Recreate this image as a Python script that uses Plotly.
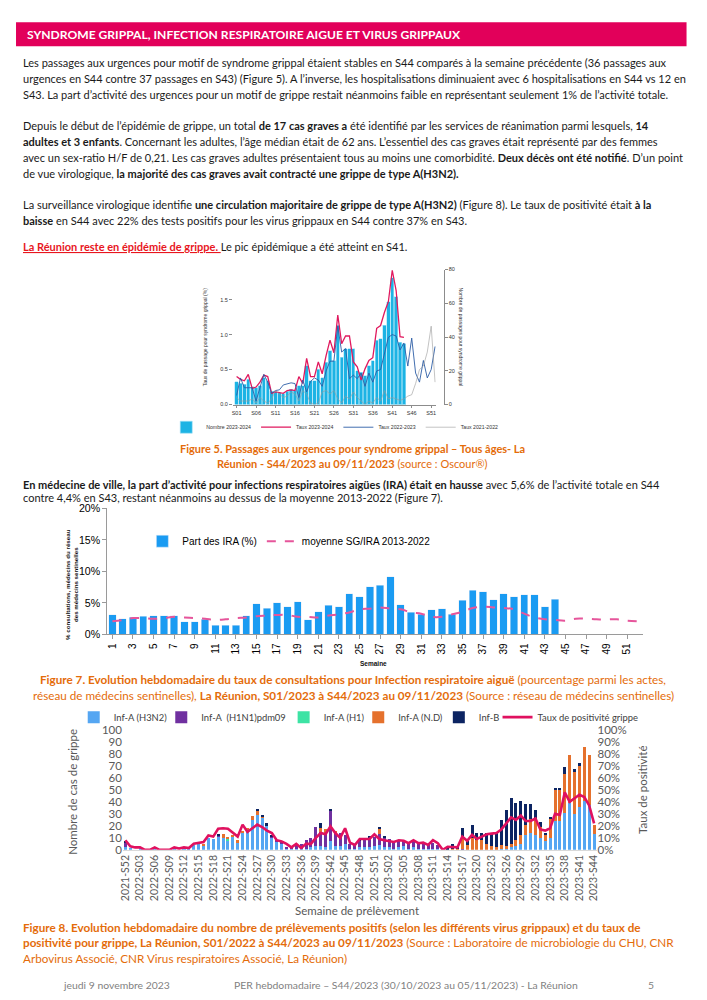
import plotly.graph_objects as go

# Figure is 691x984 inside the page's 8px body margin; a small measured
# correction maps reference-page pixels to the figure's paper coordinates.
PAGE_W, PAGE_H, OFF = 707, 1000, 8
W, H = PAGE_W - 2 * OFF, PAGE_H - 2 * OFF
OX, SX = 3.0, 0.995
OY, SY = 6.8, 0.987


def fx(x):
    return ((x - OX) / SX - OFF) / W


def fy(y):
    return 1 - ((y - OY) / SY - OFF) / H


# ---------------- Figure 5 : passages aux urgences ----------------
fig5_weeks = list(range(1, 53))
fig5_week_labels = [f"S{w:02d}" for w in fig5_weeks]
fig5_nombre_2023_2024 = [13.5, 12.5, 12, 15, 10.5, 10, 11, 16, 14, 8,
                         7.5, 7, 6.5, 8, 9, 8.5, 11, 11, 23, 14,
                         14, 21, 16, 25, 32, 26, 47, 28, 33, 33,
                         33, 20, 19, 17, 23, 26, 38, 39, 47, 61,
                         75, 64, 37, 36]
fig5_taux_2023_2024 = [0.40, 0.36, 0.34, 0.43, 0.23, 0.25, 0.32, 0.42, 0.40, 0.16,
                       0.18, 0.17, 0.16, 0.20, 0.21, 0.20, 0.40, 0.30, 0.66, 0.40,
                       0.40, 0.61, 0.44, 0.70, 0.92, 0.74, 1.28, 0.87, 0.98, 0.98,
                       0.61, 0.54, 0.35, 0.51, 0.63, 0.67, 1.09, 1.13, 1.32, 1.47,
                       1.92, 1.63, 0.97, 0.96]
fig5_taux_2022_2023 = [0.13, 0.38, 0.24, 0.24, 0.24, 0.05, 0.24, 0.43, 0.32, 0.16,
                       0.20, 0.21, 0.28, 0.30, 0.31, 0.30, 0.10, 0.35, 0.18, 0.33,
                       0.38, 0.35, 0.26, 0.48, 0.62, 0.62, 1.12, 0.75, 0.80, 0.37,
                       0.42, 0.37, 0.45, 0.26, 0.45, 0.32, 0.48, 0.50, 0.72, 0.96,
                       1.00, 0.98, 0.78, 0.88, 0.55, 0.95, 0.45, 0.32, 0.63, 0.38,
                       0.50, 0.83]
fig5_taux_2021_2022 = [0.10, 0.05, 0.05, 0.05, 0.08, 0.02, 0.10, 0.05, 0.02, 0.08,
                       0.20, 0.15, 0.10, 0.12, 0.18, 0.15, 0.05, 0.20, 0.15, 0.02,
                       0.00, 0.02, 0.18, 0.20, 0.15, 0.20, 0.08, 0.02, 0.12, 0.08,
                       0.18, 0.10, 0.05, 0.00, 0.05, 0.02, 0.10, 0.05, 0.20, 0.08,
                       0.10, 0.08, 0.06, 0.08, 0.12, 0.14, 0.30, 0.50, 0.55, 0.75,
                       1.12, 0.32]

# ---------------- Figure 7 : IRA médecins sentinelles ----------------
fig7_weeks = list(range(1, 53))
fig7_part_ira = [3.1, 2.5, 2.7, 2.9, 3.0, 3.0, 3.0, 2.0, 2.0, 2.4,
                 1.5, 1.5, 1.5, 3.0, 4.9, 4.2, 5.0, 4.4, 5.2, 2.3,
                 3.6, 4.6, 4.4, 6.5, 6.0, 7.6, 7.8, 9.2, 4.7, 3.5,
                 3.2, 3.9, 4.1, 3.2, 5.4, 7.0, 6.8, 5.5, 6.5, 6.0,
                 6.3, 6.3, 4.4, 5.6]
fig7_moyenne = [2.1, 2.3, 2.6, 2.6, 2.5, 2.6, 2.8, 2.7, 2.6, 2.5,
                2.3, 2.4, 2.6, 2.7, 2.9, 3.0, 3.1, 3.1, 2.8, 2.8,
                2.7, 3.0, 3.2, 3.5, 4.0, 4.1, 4.3, 4.1, 4.0, 3.5,
                3.3, 2.8, 2.8, 3.2, 3.6, 4.2, 4.4, 4.3, 4.2, 4.0,
                3.3, 2.7, 2.4, 2.3, 2.2, 2.5, 2.5, 2.4, 2.4, 2.4,
                2.2, 2.1]
fig7_tick_labels = [str(w) for w in range(1, 53, 2)]

# ---------------- Figure 8 : prélèvements positifs ----------------
fig8_weeks = (["2021-S52"] + [f"2022-S{w:02d}" for w in range(1, 53)]
              + [f"2023-S{w:02d}" for w in range(1, 45)])
fig8_h3n2 = ([2]
             + [1, 0, 1, 0, 0, 1, 0, 0, 0, 1, 0, 1, 1]
             + [4, 5, 4, 10, 9, 11, 10, 8, 11, 6, 14, 16, 25, 29, 27, 20, 10]
             + [7, 5, 1, 1, 1, 1, 1, 2, 3, 3, 2, 7, 3, 3]
             + [5, 1, 1, 2, 2, 2, 3, 4, 2, 2, 1, 2, 3, 1, 2, 1, 1, 1, 1, 1]
             + [0, 0, 0, 0, 0, 0, 0, 0, 0, 0, 0, 0]
             + [1, 1, 2, 3, 5, 12, 14, 12, 10, 7, 10, 24, 24, 31, 39, 30, 36, 41, 37, 13])
fig8_h1n1 = ([4]
             + [0, 0, 0, 0, 0, 0, 0, 0, 0, 0, 0, 0, 0]
             + [0, 0, 0, 0, 0, 1, 0, 0, 0, 0, 0, 0, 0, 0, 0, 0, 1]
             + [1, 1, 1, 1, 3, 4, 7, 8, 16, 12, 11, 25, 11, 11]
             + [7, 4, 3, 6, 7, 8, 8, 9, 8, 7, 6, 5, 5, 5, 5, 5, 4, 4, 5, 3]
             + [0, 0, 0, 0, 1, 0, 0, 0, 0, 0, 0, 0]
             + [0, 0, 0, 0, 0, 0, 0, 0, 0, 0, 0, 0, 0, 0, 0, 0, 0, 0, 0, 0])
fig8_h1 = ([0]
           + [0, 0, 0, 0, 0, 0, 0, 0, 0, 0, 0, 0, 0]
           + [0, 0, 0, 0, 0, 0, 0, 1, 0, 0, 0, 0, 0, 0, 0, 0, 0]
           + [0, 0, 0, 0, 0, 0, 0, 0, 0, 0, 0, 0, 0, 0]
           + [0, 0, 0, 0, 0, 0, 0, 0, 0, 0, 0, 0, 0, 0, 0, 0, 0, 0, 0, 0]
           + [0, 0, 0, 0, 0, 0, 0, 0, 0, 0, 0, 0]
           + [0, 0, 0, 0, 0, 0, 0, 0, 0, 0, 0, 0, 0, 0, 0, 0, 0, 0, 0, 0])
fig8_nd = ([0]
           + [0, 0, 0, 0, 0, 0, 0, 0, 0, 0, 0, 0, 0]
           + [0, 0, 1, 0, 0, 0, 3, 2, 1, 2, 2, 2, 3, 4, 1, 0, 0]
           + [0, 0, 0, 0, 0, 0, 0, 0, 0, 3, 4, 0, 2, 0]
           + [0, 0, 0, 0, 0, 0, 0, 5, 0, 0, 0, 0, 0, 0, 0, 0, 0, 0, 0, 0]
           + [0, 0, 1, 1, 10, 4, 10, 8, 8, 5, 3, 2]
           + [3, 2, 3, 5, 7, 9, 12, 13, 9, 5, 16, 26, 26, 32, 40, 35, 34, 45, 42, 8])
fig8_b = ([1]
          + [0, 0, 0, 0, 0, 0, 0, 0, 0, 0, 0, 0, 0]
          + [0, 0, 0, 0, 0, 1, 0, 0, 0, 0, 0, 0, 0, 1, 1, 2, 1]
          + [0, 0, 0, 0, 0, 0, 0, 0, 0, 4, 0, 2, 0, 0]
          + [0, 0, 0, 1, 0, 1, 0, 1, 1, 0, 0, 0, 0, 0, 0, 0, 0, 0, 0, 0]
          + [0, 1, 4, 1, 7, 3, 11, 6, 6, 9, 11, 13]
          + [21, 30, 38, 31, 29, 17, 12, 8, 4, 2, 1, 1, 1, 6, 0, 2, 2, 0, 0, 0])
fig8_positivite = ([8]
                   + [3, 2, 2, 0, 0, 2, 0, 0, 0, 2, 1, 2, 1.5]
                   + [5, 6, 6.5, 12, 11, 17.5, 18, 17.5, 14, 11, 21, 15, 18, 21, 19, 16, 14]
                   + [8, 7, 5, 2, 5, 1.5, 5, 5, 10, 14, 13, 19.5, 14, 10]
                   + [18, 6, 4, 9, 9, 9, 13, 9, 8, 7.5, 6.5, 8, 7.5, 5.5, 8, 5.5, 6, 4, 8, 5.5]
                   + [0, 2.5, 2.5, 2, 11, 7.5, 12.5, 9, 11, 13, 13.5, 14]
                   + [17, 22, 27, 25, 28.5, 24, 24, 26, 17, 16, 18, 30, 29, 48, 40, 43, 46, 44, 37, 22])
fig8_idx = list(range(len(fig8_weeks)))

# ---------------- Page text ----------------
header_text = "SYNDROME GRIPPAL, INFECTION RESPIRATOIRE AIGUE ET VIRUS GRIPPAUX"
body_lines = [
    (62, "Les passages aux urgences pour motif de syndrome grippal étaient stables en S44 comparés à la semaine précédente (36 passages aux"),
    (78, "urgences en S44 contre 37 passages en S43) (Figure 5). A l’inverse, les hospitalisations diminuaient avec 6 hospitalisations en S44 vs 12 en"),
    (94, "S43. La part d’activité des urgences pour un motif de grippe restait néanmoins faible en représentant seulement 1% de l’activité totale."),
    (125, "Depuis le début de l’épidémie de grippe, un total <b>de 17 cas graves a</b> été identifié par les services de réanimation parmi lesquels, <b>14</b>"),
    (141, "<b>adultes et 3 enfants</b>. Concernant les adultes, l’âge médian était de 62 ans. L’essentiel des cas graves était représenté par des femmes"),
    (157, "avec un sex-ratio H/F de 0,21. Les cas graves adultes présentaient tous au moins une comorbidité. <b>Deux décès ont été notifié</b>. D’un point"),
    (173, "de vue virologique, <b>la majorité des cas graves avait contracté une grippe de type A(H3N2).</b>"),
    (204, "La surveillance virologique identifie <b>une circulation majoritaire de grippe de type A(H3N2)</b> (Figure 8). Le taux de positivité était <b>à la</b>"),
    (220, "<b>baisse</b> en S44 avec 22% des tests positifs pour les virus grippaux en S44 contre 37% en S43."),
    (246, "<span style='color:#E8161E'><u><b>La Réunion reste en épidémie de grippe. </b></u></span>Le pic épidémique a été atteint en S41."),
    (484, "<b>En médecine de ville, la part d’activité pour infections respiratoires aigües (IRA) était en hausse</b> avec 5,6% de l’activité totale en S44"),
    (497.5, "contre 4,4% en S43, restant néanmoins au dessus de la moyenne 2013-2022 (Figure 7)."),
]
caption5_lines = [
    (448, "<b>Figure 5. Passages aux urgences pour syndrome grippal – Tous âges- La</b>"),
    (463, "<b>Réunion - S44/2023 au 09/11/2023</b> (source : Oscour®)"),
]
caption7_lines = [
    (679, "<b>Figure 7. Evolution hebdomadaire du taux de consultations pour Infection respiratoire aiguë</b> (pourcentage parmi les actes,"),
    (695, "réseau de médecins sentinelles), <b>La Réunion, S01/2023 à S44/2023 au 09/11/2023</b> (Source : réseau de médecins sentinelles)"),
]
caption8_lines = [
    (927, "<b>Figure 8. Evolution hebdomadaire du nombre de prélèvements positifs (selon les différents virus grippaux) et du taux de</b>"),
    (942, "<b>positivité pour grippe, La Réunion, S01/2022 à S44/2023 au 09/11/2023</b> (Source : Laboratoire de microbiologie du CHU, CNR"),
    (958, "Arbovirus Associé, CNR Virus respiratoires Associé, La Réunion)"),
]
footer_items = [
    (60, "jeudi 9 novembre 2023"),
    (232, "PER hebdomadaire – S44/2023 (30/10/2023 au 05/11/2023) - La Réunion"),
    (648, "5"),
]

BODY_FONT = "Lato, 'Open Sans', sans-serif"
ARIAL = "'Liberation Sans', Arial, sans-serif"
ORANGE = "#E46C0A"
GREY = "#595959"
BODY_SIZE = 11.0
CAPTION_SIZE = 11.7

fig = go.Figure()

# ---- Figure 5 traces
fig.add_trace(go.Bar(x=fig5_weeks[:len(fig5_nombre_2023_2024)], y=fig5_nombre_2023_2024,
                     name="Nombre 2023-2024", marker=dict(color="#1CB3E4", line=dict(color="#A6E3F6", width=0.6)),
                     width=0.85, xaxis="x", yaxis="y", legend="legend"))
fig.add_trace(go.Scatter(x=fig5_weeks[:len(fig5_taux_2023_2024)], y=fig5_taux_2023_2024, mode="lines",
                         name="Taux 2023-2024", line=dict(color="#E0195E", width=1.3),
                         xaxis="x", yaxis="y2", legend="legend"))
fig.add_trace(go.Scatter(x=fig5_weeks, y=fig5_taux_2022_2023, mode="lines",
                         name="Taux 2022-2023", line=dict(color="#2C5DA6", width=0.9),
                         xaxis="x", yaxis="y2", legend="legend"))
fig.add_trace(go.Scatter(x=fig5_weeks, y=fig5_taux_2021_2022, mode="lines",
                         name="Taux 2021-2022", line=dict(color="#9A9A9A", width=0.6),
                         xaxis="x", yaxis="y2", legend="legend"))

# ---- Figure 7 traces
fig.add_trace(go.Bar(x=fig7_weeks[:len(fig7_part_ira)], y=fig7_part_ira, name="Part des IRA (%)",
                     marker=dict(color="#1A9BF2"), width=0.72, xaxis="x2", yaxis="y3", legend="legend2"))
fig.add_trace(go.Scatter(x=fig7_weeks, y=fig7_moyenne, mode="lines", name="moyenne SG/IRA 2013-2022",
                         line=dict(color="#E6559B", width=2, dash="dash", shape="spline"),
                         xaxis="x2", yaxis="y3", legend="legend2"))

# ---- Figure 8 traces (one small legend per entry so the row keeps its spacing)
fig8_series = [
    ("Inf-A (H3N2)", fig8_h3n2, "#55A6F2", "legend3", 114),
    ("Inf-A  (H1N1)pdm09", fig8_h1n1, "#7030A0", "legend4", 202),
    ("Inf-A (H1)", fig8_h1, "#3DE3A4", "legend5", 325),
    ("Inf-A (N.D)", fig8_nd, "#E5712D", "legend6", 400),
    ("Inf-B", fig8_b, "#0C2462", "legend7", 481),
]
fig8_line_legend = ("legend8", 540)
for name, vals, col, leg, _ in fig8_series:
    fig.add_trace(go.Bar(x=fig8_idx, y=vals, name=name, marker=dict(color=col, line=dict(width=0)),
                         width=0.62, xaxis="x3", yaxis="y4", legend=leg))
fig.add_trace(go.Scatter(x=fig8_idx, y=fig8_positivite, mode="lines", name="Taux de positivité grippe",
                         line=dict(color="#E0115F", width=2.6), xaxis="x3", yaxis="y5",
                         legend=fig8_line_legend[0]))

# ---- Annotations (page text)
ann = []
ann.append(dict(x=fx(24), y=fy(34), text=f"<b>{header_text}</b>", xanchor="left", yanchor="middle",
                font=dict(family=BODY_FONT, size=12.1, color="white")))
for y, t in body_lines:
    ann.append(dict(x=fx(20), y=fy(y), text=t, xanchor="left", yanchor="middle",
                    font=dict(family=BODY_FONT, size=BODY_SIZE, color="#1A1A1A")))
for y, t in caption5_lines:
    ann.append(dict(x=fx(353), y=fy(y), text=t, xanchor="center", yanchor="middle",
                    font=dict(family=BODY_FONT, size=BODY_SIZE, color=ORANGE)))
for y, t in caption7_lines:
    ann.append(dict(x=fx(354), y=fy(y), text=t, xanchor="center", yanchor="middle",
                    font=dict(family=BODY_FONT, size=CAPTION_SIZE, color=ORANGE)))
for y, t in caption8_lines:
    ann.append(dict(x=fx(20), y=fy(y), text=t, xanchor="left", yanchor="middle",
                    font=dict(family=BODY_FONT, size=CAPTION_SIZE, color=ORANGE)))
for x, t in footer_items:
    ann.append(dict(x=fx(x), y=fy(985), text=t, xanchor="left", yanchor="middle",
                    font=dict(family=BODY_FONT, size=10.4, color="#7F7F7F")))

# axis titles
ann.append(dict(x=fx(205), y=fy(337), text="Taux de passage pour syndrome grippal (%)", textangle=-90,
                xanchor="center", yanchor="middle", font=dict(family=ARIAL, size=5, color="#333")))
ann.append(dict(x=fx(462), y=fy(337), text="Nombre de passages pour syndrome grippal", textangle=90,
                xanchor="center", yanchor="middle", font=dict(family=ARIAL, size=5, color="#333")))
ann.append(dict(x=fx(70), y=fy(584), text="<b>% consultations, médecins du réseau<br>des médecins sentinelles</b>",
                textangle=-90, xanchor="center", yanchor="middle",
                font=dict(family=ARIAL, size=6.2, color="#111")))
ann.append(dict(x=fx(374), y=fy(663), text="<b>Semaine</b>", xanchor="center", yanchor="middle",
                font=dict(family=ARIAL, size=6.5, color="#111")))
ann.append(dict(x=fx(71), y=fy(792), text="Nombre de cas de grippe", textangle=-90,
                xanchor="center", yanchor="middle", font=dict(family=BODY_FONT, size=11.5, color=GREY)))
ann.append(dict(x=fx(644), y=fy(790), text="Taux de positivité", textangle=-90,
                xanchor="center", yanchor="middle", font=dict(family=BODY_FONT, size=11.5, color=GREY)))
ann.append(dict(x=fx(358), y=fy(910), text="Semaine de prélèvement", xanchor="center", yanchor="middle",
                font=dict(family=BODY_FONT, size=11.5, color=GREY)))
for a in ann:
    a.update(xref="paper", yref="paper", showarrow=False)

shapes = [dict(type="rect", xref="paper", yref="paper", x0=fx(15), x1=fx(689), y0=fy(46), y1=fy(22),
               fillcolor="#E2005A", line=dict(width=0), layer="below")]

legend_common = dict(orientation="h", xanchor="left", yanchor="middle", bgcolor="rgba(0,0,0,0)",
                     itemwidth=30, traceorder="normal")
fig8_legend_layout = {}
for name, vals, col, leg, text_x in fig8_series + [(None, None, None, fig8_line_legend[0], fig8_line_legend[1])]:
    fig8_legend_layout[leg] = dict(legend_common, x=fx(text_x - 41), y=fy(717),
                                   font=dict(family=BODY_FONT, size=9.4, color="#404040"))

fig.update_layout(
    width=W, height=H, autosize=False,
    margin=dict(l=0, r=0, t=0, b=0),
    paper_bgcolor="white", plot_bgcolor="rgba(0,0,0,0)",
    barmode="stack",
    annotations=ann, shapes=shapes,
    # Figure 5 axes
    xaxis=dict(domain=[fx(233), fx(437)], anchor="y", range=[0.05, 52.2],
               tickvals=fig5_weeks[::5], ticktext=fig5_week_labels[::5],
               tickfont=dict(family=ARIAL, size=5.5, color="#333"),
               showline=True, linecolor="#8C8C8C", linewidth=0.8, ticks="outside", ticklen=3,
               tickcolor="#8C8C8C", showgrid=False, zeroline=False),
    yaxis=dict(domain=[fy(404.3), fy(269.3)], range=[0, 80], side="right", anchor="free",
               position=fx(445), tickvals=[0, 20, 40, 60, 80],
               tickfont=dict(family=ARIAL, size=5.5, color="#333"),
               showline=True, linecolor="#8C8C8C", linewidth=0.8, ticks="outside", ticklen=3,
               tickcolor="#8C8C8C", showgrid=False, zeroline=False),
    yaxis2=dict(overlaying="y", side="left", anchor="x", range=[0, 1.93],
                tickvals=[0, 0.5, 1.0, 1.5], ticktext=["0.0", "0.5", "1.0", "1.5"],
                tickfont=dict(family=ARIAL, size=5.5, color="#333"),
                showline=False, ticks="outside", ticklen=3, tickcolor="#8C8C8C",
                showgrid=False, zeroline=False),
    # Figure 7 axes
    xaxis2=dict(domain=[fx(106.7), fx(644.9)], anchor="y3", range=[0.5, 52.5],
                tickvals=list(range(1, 53, 2)), ticktext=fig7_tick_labels, tickangle=-90,
                tickfont=dict(family=ARIAL, size=10, color="#000"),
                showline=True, linecolor="#9A9A9A", linewidth=1, ticks="outside", ticklen=4,
                tickcolor="#9A9A9A", showgrid=False, zeroline=False),
    yaxis3=dict(domain=[fy(634.3), fy(508.3)], anchor="x2", range=[0, 20],
                tickvals=[0, 5, 10, 15, 20], ticktext=["0%", "5%", "10%", "15%", "20%"],
                tickfont=dict(family=ARIAL, size=10.6, color="#000"),
                showline=True, linecolor="#9A9A9A", linewidth=1, ticks="outside", ticklen=4,
                tickcolor="#9A9A9A", showgrid=False, zeroline=False),
    # Figure 8 axes
    xaxis3=dict(domain=[fx(122.5), fx(598.5)], anchor="y4", range=[-0.5, len(fig8_weeks) - 0.5],
                tickvals=fig8_idx[::3], ticktext=fig8_weeks[::3], tickangle=-90,
                tickfont=dict(family=BODY_FONT, size=10.5, color=GREY),
                showline=True, linecolor="#D9D9D9", linewidth=1, ticks="", showgrid=False, zeroline=False),
    yaxis4=dict(domain=[fy(849.7), fy(729.7)], anchor="x3", range=[0, 100], dtick=10,
                tickfont=dict(family=BODY_FONT, size=11.5, color=GREY),
                showline=False, showgrid=False, zeroline=False, ticks=""),
    yaxis5=dict(overlaying="y4", side="right", anchor="x3", range=[0, 100],
                tickvals=list(range(0, 101, 10)), ticktext=[f"{v}%" for v in range(0, 101, 10)],
                tickfont=dict(family=BODY_FONT, size=11.5, color=GREY),
                showline=False, showgrid=False, zeroline=False, ticks=""),
    legend=dict(legend_common, x=fx(166), y=fy(427), tracegroupgap=0,
                font=dict(family=ARIAL, size=5.2, color="#333")),
    legend2=dict(legend_common, x=fx(142), y=fy(541),
                 font=dict(family=ARIAL, size=10, color="#000")),
    **fig8_legend_layout,
)

fig.write_html("out.html", config={"displayModeBar": False})
